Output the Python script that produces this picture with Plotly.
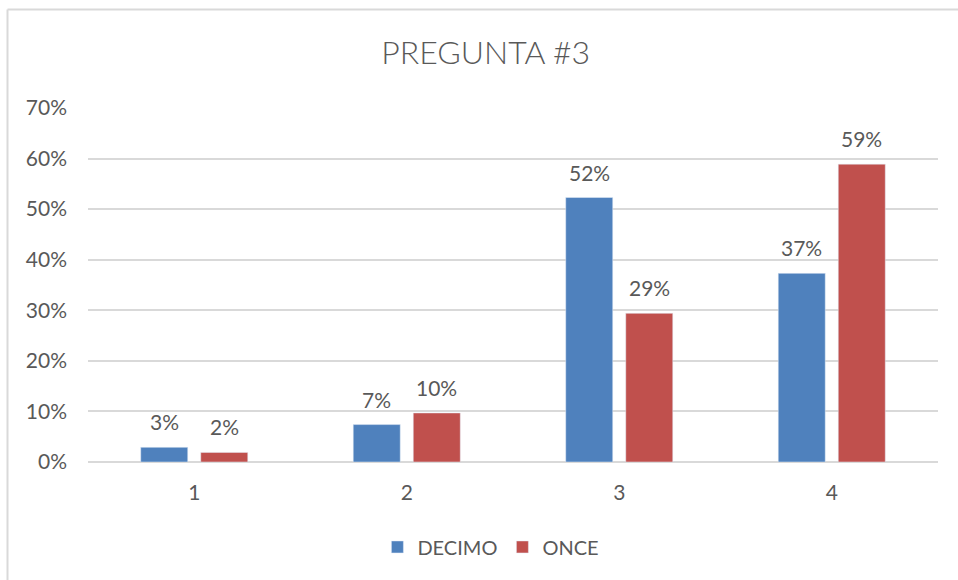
# Import dependencies
import plotly.graph_objects as go

# Data
categorias = ['1', '2', '3', '4']
decimo = [0.029, 0.074, 0.523, 0.373]
once = [0.019, 0.097, 0.294, 0.589]
series = [('DECIMO', decimo, '#4F81BD'), ('ONCE', once, '#C0504D')]

font_family = 'Lato, Open Sans, sans-serif'
text_color = '#595959'

fig = go.Figure()
for name, vals, color in series:
    fig.add_trace(go.Bar(x = categorias,
                         y = vals,
                         name = name,
                         marker_color = color,
                         hovertemplate = '%{x}: %{y:.0%}<extra></extra>'))

# Value labels above each bar (Excel "outside end" style)
annotations = []
for i, (name, vals, color) in enumerate(series):
    shift = -30 if i == 0 else 30
    for j, v in enumerate(vals):
        annotations.append(dict(x = j, y = v, xref = 'x', yref = 'y',
                                text = f'{v:.0%}', showarrow = False,
                                xshift = shift, yshift = 11, yanchor = 'bottom',
                                font = dict(size = 21, color = text_color, family = font_family)))

fig.update_layout(width = 958, height = 580,
                  margin = dict(l = 88, r = 20, t = 108, b = 118),
                  paper_bgcolor = 'white', plot_bgcolor = 'white',
                  title = dict(text = 'PREGUNTA #3', x = 0.507, xanchor = 'center',
                               y = 0.909, yanchor = 'middle', yref = 'container',
                               font = dict(size = 32, color = text_color, family = font_family, weight = 300)),
                  barmode = 'group', bargap = 0.435, bargroupgap = 0.217,
                  legend = dict(orientation = 'h', x = 0.474, xanchor = 'center',
                                y = -0.24, yanchor = 'middle', itemwidth = 30,
                                font = dict(size = 20, color = text_color, family = font_family)),
                  annotations = annotations,
                  shapes = [dict(type = 'line', xref = 'paper', yref = 'paper',
                                 x0 = -0.0947, x1 = 1.1, y0 = 1.278, y1 = 1.278,
                                 line = dict(color = '#D9D9D9', width = 2)),
                            dict(type = 'line', xref = 'paper', yref = 'paper',
                                 x0 = -0.0947, x1 = -0.0947, y0 = 1.278, y1 = -0.4,
                                 line = dict(color = '#D9D9D9', width = 2))])

fig.update_xaxes(type = 'category', range = [-0.5, 3.5], showgrid = False, showline = False, ticks = '',
                 ticklabelstandoff = 16,
                 tickfont = dict(size = 21, color = text_color, family = font_family))
fig.update_yaxes(range = [0, 0.7], dtick = 0.1, tickformat = '.0%',
                 showgrid = True, gridcolor = '#D9D9D9', gridwidth = 1.5,
                 zeroline = True, zerolinecolor = '#D9D9D9', zerolinewidth = 1.5,
                 showline = False, ticks = '', ticklabelstandoff = 20,
                 tickfont = dict(size = 21, color = text_color, family = font_family))

# Remove the default body margin so the figure sits flush in the window
fig.write_html("out.html", config = {'displayModeBar': False},
               post_script = "document.body.style.margin = '0';")
